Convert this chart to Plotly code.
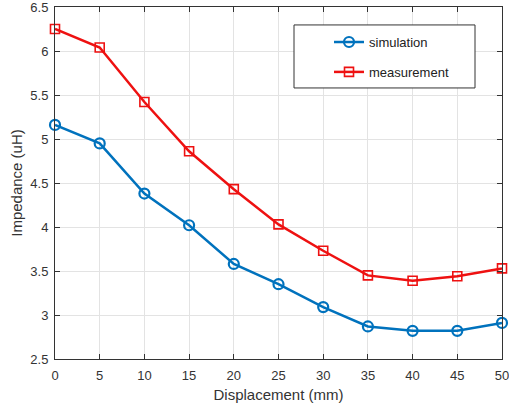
import plotly.graph_objects as go

displacement = [0, 5, 10, 15, 20, 25, 30, 35, 40, 45, 50]
simulation = [5.16, 4.95, 4.38, 4.02, 3.58, 3.35, 3.09, 2.87, 2.82, 2.82, 2.91]
measurement = [6.25, 6.04, 5.42, 4.86, 4.43, 4.03, 3.73, 3.45, 3.39, 3.44, 3.53]
x_ticks = [0, 5, 10, 15, 20, 25, 30, 35, 40, 45, 50]
y_ticks = [2.5, 3, 3.5, 4, 4.5, 5, 5.5, 6, 6.5]

fig = go.Figure()
fig.add_trace(go.Scatter(
    x=displacement, y=simulation, mode="lines+markers", name="simulation",
    legendgroup="a",
    line=dict(color="#0072BD", width=2.5), cliponaxis=False,
    marker=dict(symbol="circle-open", size=10, color="#0072BD", line=dict(width=2.2)),
))
fig.add_trace(go.Scatter(
    x=displacement, y=measurement, mode="lines+markers", name="measurement",
    legendgroup="b",
    line=dict(color="#EE1111", width=2.5), cliponaxis=False,
    marker=dict(symbol="square-open", size=9, color="#EE1111", line=dict(width=1.6)),
))

axis_common = dict(
    showgrid=True, gridcolor="#E3E3E3", gridwidth=1,
    showline=True, linecolor="#333333", linewidth=1, mirror="ticks",
    ticks="inside", ticklen=5, tickcolor="#333333",
    zeroline=False, automargin=False, ticklabeloverflow="allow",
    tickfont=dict(family="Liberation Sans, Arial, sans-serif", size=13, color="#333333"),
)

fig.update_layout(
    width=509, height=408,
    margin=dict(l=55, r=7, t=7, b=49),
    paper_bgcolor="white", plot_bgcolor="white",
    font=dict(family="Liberation Sans, Arial, sans-serif", color="#333333"),
    xaxis=dict(range=[-0.0001, 50.0001], tickvals=x_ticks, ticklabelstandoff=4,
               title=dict(text="Displacement (mm)", font=dict(size=15), standoff=7), **axis_common),
    yaxis=dict(range=[2.49999, 6.50001], tickvals=y_ticks, ticklabelstandoff=3,
               title=dict(text="Impedance (uH)", font=dict(size=15), standoff=4), **axis_common),
    showlegend=True,
    legend=dict(
        x=0.613, y=0.943, xanchor="left", yanchor="top",
        bgcolor="rgba(0,0,0,0)", borderwidth=0,
        font=dict(size=13, color="#222222"),
        tracegroupgap=10,
    ),
    shapes=[dict(
        type="rect", xref="paper", yref="paper",
        x0=0.5347, x1=0.9396, y0=0.770, y1=0.949,
        line=dict(color="#333333", width=1), fillcolor="white", layer="above",
    )],
)

fig.write_html("out.html", post_script="document.body.style.margin='0px';",
               config={"displayModeBar": False})
